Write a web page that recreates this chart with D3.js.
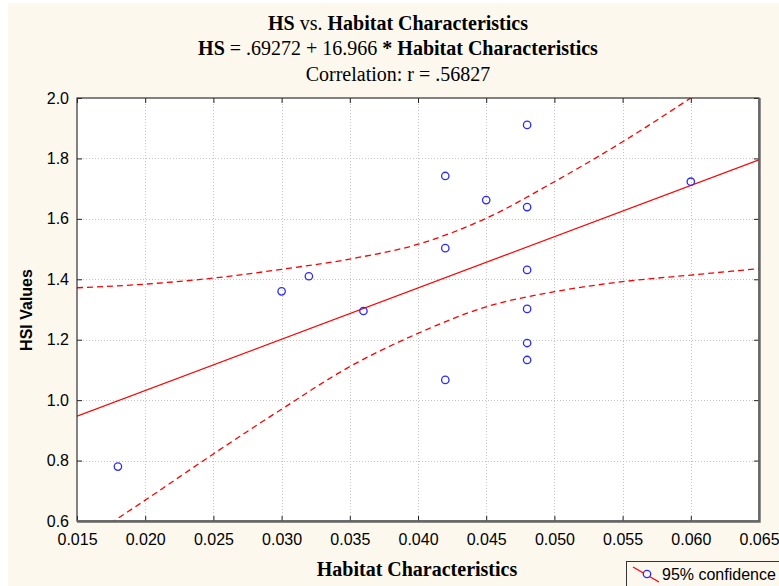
<!doctype html>
<html>
<head>
<meta charset="UTF-8">
<title>HS vs. Habitat Characteristics</title>
<script src="https://d3js.org/d3.v7.min.js"></script>
<style>
  body { margin: 0; background: #ffffff; }
  svg { display: block; }
</style>
</head>
<body>
<script>
var habitatChar = [0.018, 0.030, 0.032, 0.036, 0.042, 0.042, 0.042, 0.045, 0.048, 0.048, 0.048, 0.048, 0.048, 0.048, 0.060];
var hsiValues   = [0.78, 1.36, 1.41, 1.295, 1.742, 1.503, 1.067, 1.662, 1.911, 1.639, 1.431, 1.302, 1.189, 1.133, 1.723];

// regression from the title
var intercept = 0.69272;
var slope = 16.966;

// 95% confidence band, read at the x ticks
var bandX     = [0.015, 0.020, 0.025, 0.030, 0.035, 0.040, 0.045, 0.050, 0.055, 0.060, 0.065];
var bandUpper = [1.372, 1.384, 1.404, 1.433, 1.467, 1.516, 1.602, 1.723, 1.855, 2.000, 2.150];
var bandLower = [0.520, 0.669, 0.822, 0.970, 1.111, 1.221, 1.309, 1.359, 1.392, 1.414, 1.435];

var xTicks = [0.015, 0.020, 0.025, 0.030, 0.035, 0.040, 0.045, 0.050, 0.055, 0.060, 0.065];
var yTicks = [0.6, 0.8, 1.0, 1.2, 1.4, 1.6, 1.8, 2.0];

var W = 779, H = 586;
var pL = 77, pR = 759, pT = 98, pB = 521;

var svg = d3.select("body").append("svg").attr("width", W).attr("height", H);

svg.append("rect").attr("x", 8).attr("y", 3).attr("width", W - 8).attr("height", H - 3)
    .attr("fill", "#fcf8ee");

var x = d3.scaleLinear().domain([0.015, 0.065]).range([pL, pR]);
var y = d3.scaleLinear().domain([0.6, 2.0]).range([pB, pT]);

svg.append("rect").attr("x", pL).attr("y", pT)
    .attr("width", pR - pL).attr("height", pB - pT).attr("fill", "#ffffff");

// grid
var grid = svg.append("g").attr("stroke", "#c4c4c4").attr("stroke-dasharray", "1,2").attr("stroke-width", 1);
grid.selectAll(".gx").data(xTicks.slice(1, -1)).enter().append("line")
    .attr("x1", function(d) { return Math.round(x(d)) + 0.5; })
    .attr("x2", function(d) { return Math.round(x(d)) + 0.5; })
    .attr("y1", pT).attr("y2", pB);
grid.selectAll(".gy").data(yTicks.slice(1, -1)).enter().append("line")
    .attr("y1", function(d) { return Math.round(y(d)) + 0.5; })
    .attr("y2", function(d) { return Math.round(y(d)) + 0.5; })
    .attr("x1", pL).attr("x2", pR);

svg.append("clipPath").attr("id", "plotClip").append("rect")
    .attr("x", pL).attr("y", pT).attr("width", pR - pL).attr("height", pB - pT);

var plot = svg.append("g").attr("clip-path", "url(#plotClip)");

var bandLine = function(vals) {
    return d3.line()
        .x(function(d, i) { return x(bandX[i]); })
        .y(function(d) { return y(d); })
        .curve(d3.curveMonotoneX)(vals);
};

plot.append("path").attr("d", bandLine(bandUpper))
    .attr("fill", "none").attr("stroke", "#ff0000").attr("stroke-width", 1.3).attr("stroke-dasharray", "6,4");
plot.append("path").attr("d", bandLine(bandLower))
    .attr("fill", "none").attr("stroke", "#ff0000").attr("stroke-width", 1.3).attr("stroke-dasharray", "6,4");

plot.append("line")
    .attr("x1", x(0.015)).attr("y1", y(intercept + slope * 0.015))
    .attr("x2", x(0.065)).attr("y2", y(intercept + slope * 0.065))
    .attr("stroke", "#ff0000").attr("stroke-width", 1.3);

plot.selectAll("circle").data(habitatChar).enter().append("circle")
    .attr("cx", function(d) { return x(d); })
    .attr("cy", function(d, i) { return y(hsiValues[i]); })
    .attr("r", 3.7)
    .attr("fill", "none").attr("stroke", "#2a2aff").attr("stroke-width", 1.3);

// axes, ticks inside
var tickFont = "'Liberation Sans', Arial, sans-serif";
svg.append("g").attr("transform", "translate(0," + pB + ")")
    .call(d3.axisBottom(x).tickValues(xTicks).tickFormat(d3.format(".3f"))
        .tickSizeInner(-5).tickSizeOuter(0).tickPadding(13));
svg.append("g").attr("transform", "translate(" + pL + ",0)")
    .call(d3.axisLeft(y).tickValues(yTicks).tickFormat(d3.format(".1f"))
        .tickSizeInner(-5).tickSizeOuter(0).tickPadding(8));
svg.append("g").attr("transform", "translate(0," + pT + ")")
    .call(d3.axisTop(x).tickValues(xTicks).tickFormat("").tickSizeInner(-5).tickSizeOuter(0));
svg.append("g").attr("transform", "translate(" + pR + ",0)")
    .call(d3.axisRight(y).tickValues(yTicks).tickFormat("").tickSizeInner(-5).tickSizeOuter(0));

svg.selectAll(".domain").remove();
svg.selectAll(".tick line").attr("stroke", "#222");
svg.selectAll(".tick text").attr("font-family", tickFont).attr("font-size", 16).attr("fill", "#000");

// frame
svg.append("rect").attr("x", pL).attr("y", pT)
    .attr("width", pR - pL).attr("height", pB - pT)
    .attr("fill", "none").attr("stroke", "#333").attr("stroke-width", 1.2);
svg.append("polyline")
    .attr("points", [[pR + 0.5, pT], [pR + 0.5, pB + 0.5], [pL, pB + 0.5]].join(" "))
    .attr("fill", "none").attr("stroke", "#666").attr("stroke-width", 2.4);

// titles
var serif = "'Liberation Serif', 'Times New Roman', serif";
var titleLines = [
    [["HS", "bold"], [" vs. ", "normal"], ["Habitat Characteristics", "bold"]],
    [["HS", "bold"], [" = .69272 + 16.966 ", "normal"], ["* Habitat Characteristics", "bold"]],
    [["Correlation: r = .56827", "normal"]]
];
var titleY = [30, 55, 81];
titleLines.forEach(function(parts, i) {
    var t = svg.append("text").attr("x", 398).attr("y", titleY[i])
        .attr("text-anchor", "middle").attr("font-family", serif).attr("font-size", 20);
    parts.forEach(function(p) {
        t.append("tspan").attr("font-weight", p[1]).attr("xml:space", "preserve").text(p[0]);
    });
});

svg.append("text").attr("x", 417).attr("y", 576)
    .attr("text-anchor", "middle").attr("font-family", serif).attr("font-size", 20)
    .attr("font-weight", "bold").text("Habitat Characteristics");

svg.append("text").attr("transform", "translate(32,310) rotate(-90)")
    .attr("text-anchor", "middle").attr("font-family", tickFont).attr("font-size", 16)
    .attr("font-weight", "bold").text("HSI Values");

// legend
var legend = svg.append("g");
legend.append("rect").attr("x", 626.5).attr("y", 561.5).attr("width", 170).attr("height", 40)
    .attr("fill", "none").attr("stroke", "#333").attr("stroke-width", 1);
legend.append("line").attr("x1", 633).attr("y1", 567).attr("x2", 659).attr("y2", 582)
    .attr("stroke", "#ff0000").attr("stroke-width", 1.3);
legend.append("circle").attr("cx", 647).attr("cy", 574).attr("r", 3.7)
    .attr("fill", "#fcf8ee").attr("stroke", "#2a2aff").attr("stroke-width", 1.3);
legend.append("text").attr("x", 662).attr("y", 580)
    .attr("font-family", tickFont).attr("font-size", 16).text("95% confidence");
</script>
</body>
</html>
